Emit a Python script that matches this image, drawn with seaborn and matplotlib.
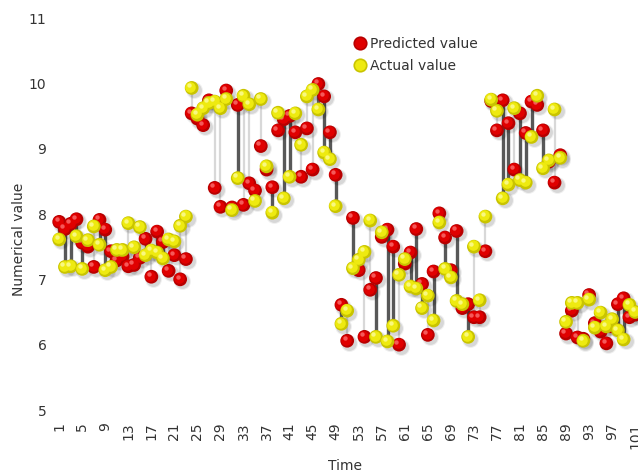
import matplotlib
matplotlib.use("Agg")
import matplotlib.pyplot as plt
from matplotlib.lines import Line2D
from matplotlib.transforms import offset_copy
import numpy as np
import pandas as pd
import seaborn as sns

# ---- data -------------------------------------------------------------
time = list(range(1, 102))

predicted = [
    7.88, 7.77, 7.85, 7.92, 7.56, 7.50, 7.19, 7.91, 7.76, 7.43,
    7.29, 7.35, 7.20, 7.22, 7.33, 7.62, 7.04, 7.73, 7.57, 7.13,
    7.37, 7.00, 7.31, 9.54, 9.46, 9.36, 9.74, 8.40, 8.11, 9.89,
    8.10, 9.67, 8.14, 8.47, 8.36, 9.04, 8.68, 8.41, 9.28, 9.45,
    9.50, 9.25, 8.57, 9.31, 8.68, 9.99, 9.80, 9.25, 8.60, 6.61,
    6.06, 7.94, 7.14, 6.12, 6.84, 7.02, 7.65, 7.76, 7.50, 6.00,
    7.24, 7.41, 7.77, 6.93, 6.15, 7.12, 8.01, 7.64, 7.14, 7.74,
    6.56, 6.62, 6.42, 6.42, 7.43, 9.73, 9.28, 9.74, 9.39, 8.68,
    9.54, 9.24, 9.72, 9.67, 9.28, 8.80, 8.48, 8.90, 6.17, 6.52,
    6.11, 6.09, 6.76, 6.33, 6.20, 6.02, 6.28, 6.62, 6.71, 6.42,
    6.46,
]

actual = [
    7.61, 7.19, 7.20, 7.66, 7.16, 7.60, 7.81, 7.53, 7.14, 7.19,
    7.45, 7.45, 7.86, 7.49, 7.80, 7.37, 7.44, 7.41, 7.32, 7.61,
    7.58, 7.82, 7.96, 9.93, 9.52, 9.62, 9.70, 9.72, 9.62, 9.76,
    8.06, 8.55, 9.81, 9.68, 8.20, 9.76, 8.73, 8.02, 9.55, 8.24,
    8.57, 9.54, 9.06, 9.80, 9.90, 9.60, 8.94, 8.84, 8.12, 6.32,
    6.52, 7.17, 7.30, 7.42, 7.90, 6.12, 7.72, 6.05, 6.29, 7.07,
    7.31, 6.89, 6.86, 6.56, 6.75, 6.37, 7.87, 7.16, 7.03, 6.67,
    6.62, 6.12, 7.50, 6.68, 7.96, 9.75, 9.58, 8.24, 8.45, 9.62,
    8.52, 8.48, 9.18, 9.81, 8.70, 8.82, 9.60, 8.86, 6.35, 6.64,
    6.64, 6.06, 6.69, 6.26, 6.49, 6.28, 6.39, 6.22, 6.08, 6.61,
    6.50,
]

series_names = ["Predicted value", "Actual value"]
y_ticks = [5, 6, 7, 8, 9, 10, 11]
x_ticks = list(range(1, 102, 4))

# ---- style ------------------------------------------------------------
sns.set_style("white")
plt.rcParams["font.family"] = ["DejaVu Sans"]
TEXT = "#333333"

# base colour, lit face, specular highlight
palette = {
    "Predicted value": ("#b80000", "#e00000", "#ff8080"),
    "Actual value": ("#c9c400", "#eeea10", "#ffffb0"),
}

df = pd.DataFrame({
    "Time": time * 2,
    "Value": predicted + actual,
    "Series": [series_names[0]] * len(time) + [series_names[1]] * len(time),
})

fig = plt.figure(figsize=(6.38, 4.76), dpi=100)
ax = fig.add_axes([52 / 638, 66 / 476, 586 / 638, 392 / 476])

# ---- connectors between predicted and actual --------------------------
t_arr = np.array(time)
p_arr = np.array(predicted)
a_arr = np.array(actual)
over = p_arr > a_arr
ax.vlines(t_arr[~over], p_arr[~over], a_arr[~over], colors="#d8d8d8",
          linewidths=1.6, zorder=1)
ax.vlines(t_arr[over], a_arr[over], p_arr[over], colors="#585858",
          linewidths=2.4, zorder=1.5)

# ---- soft drop shadows ------------------------------------------------
shadow_tr = offset_copy(ax.transData, fig=fig, x=2.0, y=-2.0, units="dots")
for s_, a_ in ((150, 0.06), (115, 0.10)):
    ax.scatter(df["Time"], df["Value"], s=s_, color="black", alpha=a_,
               linewidths=0, transform=shadow_tr, zorder=2)

# ---- glossy balls -----------------------------------------------------
lit_tr = offset_copy(ax.transData, fig=fig, x=-1.2, y=1.2, units="dots")
hi_tr = offset_copy(ax.transData, fig=fig, x=-2.6, y=2.6, units="dots")
z = 3
for name in series_names:
    base, lit, hi = palette[name]
    sub = df[df["Series"] == name]
    sns.scatterplot(data=sub, x="Time", y="Value", color=base, s=98,
                    edgecolor="none", linewidth=0, ax=ax, zorder=z,
                    legend=False)
    ax.scatter(sub["Time"], sub["Value"], s=58, color=lit, linewidths=0,
               transform=lit_tr, zorder=z + 0.1)
    ax.scatter(sub["Time"], sub["Value"], s=10, color=hi, alpha=0.7,
               linewidths=0, transform=hi_tr, zorder=z + 0.2)
    z += 1

# ---- axes -------------------------------------------------------------
ax.set_xlim(-0.25, 101.49)
ax.set_ylim(5, 11)
ax.set_yticks(y_ticks)
ax.set_yticklabels([str(v) for v in y_ticks])
ax.set_xticks(x_ticks)
ax.set_xticklabels([str(v) for v in x_ticks], rotation=90)
ax.tick_params(axis="both", length=0, labelsize=10, colors=TEXT)
ax.tick_params(axis="x", pad=9)
ax.tick_params(axis="y", pad=4)
for sp in ax.spines.values():
    sp.set_visible(False)
ax.grid(False)

ax.set_xlabel("Time", fontsize=10, color=TEXT)
ax.xaxis.set_label_coords(0.5, -0.125)
ax.set_ylabel("Numerical value", fontsize=10, color=TEXT)
ax.yaxis.set_label_coords(-0.045, 0.434)

handles = [
    Line2D([], [], linestyle="none", marker="o", markersize=9,
           markerfacecolor=palette[n][1], markeredgecolor=palette[n][0],
           markeredgewidth=1.2)
    for n in series_names
]
ax.legend(handles, series_names, loc="upper left",
          bbox_to_anchor=(354 / 638, 1 - 37 / 476),
          bbox_transform=fig.transFigure, frameon=False, fontsize=10,
          handlelength=0.8, handletextpad=0.35, borderpad=0,
          borderaxespad=0, labelspacing=0.55, labelcolor=TEXT)

fig.savefig("out.png", dpi=100)
